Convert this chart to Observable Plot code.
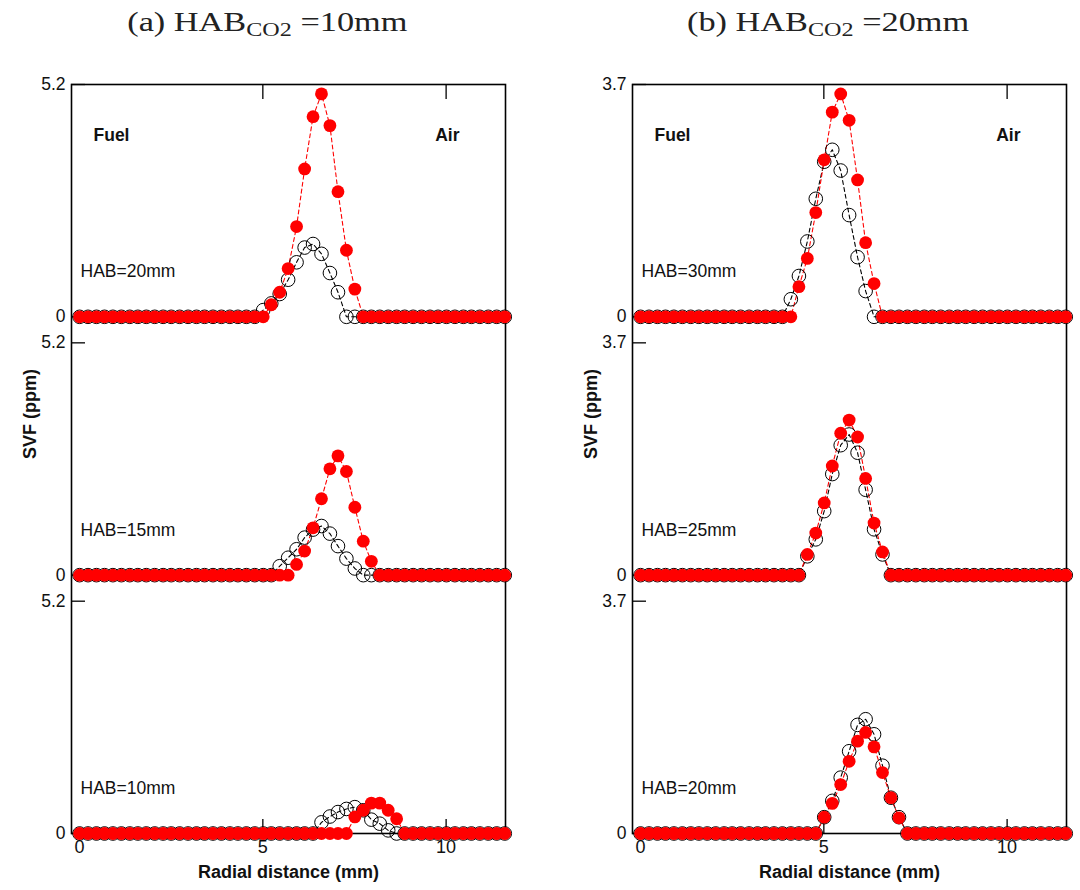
<!DOCTYPE html>
<html><head><meta charset="utf-8">
<script src="https://cdn.jsdelivr.net/npm/d3@7"></script>
<script src="https://cdn.jsdelivr.net/npm/@observablehq/plot@0.6"></script>
<style>
body{margin:0;background:#fff;}
#wrap{display:flex;width:1080px;height:890px;overflow:hidden;}
.panel{width:540px;position:relative;}
.title{height:40px;font-family:"Liberation Serif","Times New Roman",serif;font-size:27px;color:#222;text-align:center;line-height:44px;white-space:nowrap;}
.title span{display:inline-block;}
.title sub{font-size:19px;vertical-align:-5px;line-height:0;}
svg text{fill:#111;}
</style></head><body>
<div id="wrap"><div class="panel" id="pa"></div><div class="panel" id="pb"></div></div>
<script>
// radial positions (mm)
const radial = [0.00,0.23,0.46,0.68,0.91,1.14,1.37,1.59,1.82,2.05,
  2.28,2.50,2.73,2.96,3.19,3.41,3.64,3.87,4.10,4.32,
  4.55,4.78,5.01,5.23,5.46,5.69,5.92,6.14,6.37,6.60,
  6.83,7.05,7.28,7.51,7.74,7.96,8.19,8.42,8.65,8.87,
  9.10,9.33,9.56,9.78,10.01,10.24,10.47,10.69,10.92,11.15,
  11.38,11.60];

// (a) HAB_CO2 = 10mm
const a20Black = [0,0,0,0,0,0,0,0,0,0, 0,0,0,0,0,0,0,0,0,0,
  0,0,0.15,0.30,0.51,0.83,1.22,1.55,1.63,1.41, 0.98,0.55,0,0,0,0,0,0,0,0,
  0,0,0,0,0,0,0,0,0,0, 0,0];
const a20Red = [0,0,0,0,0,0,0,0,0,0, 0,0,0,0,0,0,0,0,0,0,
  0,0,0,0.27,0.55,1.08,2.02,3.31,4.48,4.99, 4.28,2.80,1.49,0.62,0,0,0,0,0,0,
  0,0,0,0,0,0,0,0,0,0, 0,0];
const a15Black = [0,0,0,0,0,0,0,0,0,0, 0,0,0,0,0,0,0,0,0,0,
  0,0,0,0,0.20,0.39,0.58,0.84,1.02,1.10, 0.93,0.65,0.37,0.15,0,0,0,0,0,0,
  0,0,0,0,0,0,0,0,0,0, 0,0];
const a15Red = [0,0,0,0,0,0,0,0,0,0, 0,0,0,0,0,0,0,0,0,0,
  0,0,0,0,0,0,0.24,0.54,1.06,1.71, 2.38,2.67,2.32,1.52,0.76,0.31,0,0,0,0,
  0,0,0,0,0,0,0,0,0,0, 0,0];
const a10Black = [0,0,0,0,0,0,0,0,0,0, 0,0,0,0,0,0,0,0,0,0,
  0,0,0,0,0,0,0,0,0,0.25, 0.38,0.48,0.55,0.59,0.52,0.31,0.22,0.07,0,0,
  0,0,0,0,0,0,0,0,0,0, 0,0];
const a10Red = [0,0,0,0,0,0,0,0,0,0, 0,0,0,0,0,0,0,0,0,0,
  0,0,0,0,0,0,0,0,0,0, 0,0,0,0.37,0.52,0.68,0.68,0.52,0.33,0,
  0,0,0,0,0,0,0,0,0,0, 0,0];

// (b) HAB_CO2 = 20mm
const b30Black = [0,0,0,0,0,0,0,0,0,0, 0,0,0,0,0,0,0,0,0.28,0.65,
  1.20,1.88,2.47,2.66,2.33,1.62,0.95,0.41,0,0, 0,0,0,0,0,0,0,0,0,0,
  0,0,0,0,0,0,0,0,0,0, 0,0];
const b30Red = [0,0,0,0,0,0,0,0,0,0, 0,0,0,0,0,0,0,0,0,0.48,
  0.93,1.66,2.50,3.26,3.55,3.13,2.18,1.18,0.53,0, 0,0,0,0,0,0,0,0,0,0,
  0,0,0,0,0,0,0,0,0,0, 0,0];
const b25Black = [0,0,0,0,0,0,0,0,0,0, 0,0,0,0,0,0,0,0,0,0,
  0.30,0.57,1.02,1.61,2.07,2.24,1.95,1.36,0.73,0.33, 0,0,0,0,0,0,0,0,0,0,
  0,0,0,0,0,0,0,0,0,0, 0,0];
const b25Red = [0,0,0,0,0,0,0,0,0,0, 0,0,0,0,0,0,0,0,0,0,
  0.33,0.67,1.15,1.74,2.26,2.47,2.20,1.54,0.83,0.37, 0,0,0,0,0,0,0,0,0,0,
  0,0,0,0,0,0,0,0,0,0, 0,0];
const b20Black = [0,0,0,0,0,0,0,0,0,0, 0,0,0,0,0,0,0,0,0,0,
  0,0,0.26,0.52,0.89,1.31,1.73,1.82,1.58,1.08, 0.57,0.26,0,0,0,0,0,0,0,0,
  0,0,0,0,0,0,0,0,0,0, 0,0];
const b20Red = [0,0,0,0,0,0,0,0,0,0, 0,0,0,0,0,0,0,0,0,0,
  0,0,0.26,0.48,0.78,1.15,1.47,1.61,1.38,0.97, 0.57,0.25,0,0,0,0,0,0,0,0,
  0,0,0,0,0,0,0,0,0,0, 0,0];

const habA = ["HAB=20mm", "HAB=15mm", "HAB=10mm"];
const habB = ["HAB=30mm", "HAB=25mm", "HAB=20mm"];
const yMaxA = 5.2, yMaxB = 3.7;
const xTicks = [0, 5, 10];
const titleA = ["(a) HAB", "CO2", " =10mm"];
const titleB = ["(b) HAB", "CO2", " =20mm"];

function makePanel(el, title, titleShift, ymax, habs, blacks, reds, mLeft, mRight) {
  const t = document.createElement("div");
  t.className = "title";
  t.innerHTML = `<span style="transform:translateX(${titleShift}px) scaleX(1.27)">${title[0]}<sub>${title[1]}</sub>${title[2]}</span>`;
  el.appendChild(t);
  const G = ymax * 258 / 232; // stacked sub-panel step in value units
  const rows = [];
  [blacks, reds].forEach((set, s) => set.forEach((arr, sub) => arr.forEach((v, i) =>
    rows.push({x: radial[i], v, sub, series: s === 0 ? "black" : "red"}))));
  const Y = d => d.v + (2 - d.sub) * G;
  const blackRows = rows.filter(d => d.series === "black");
  const redRows = rows.filter(d => d.series === "red");
  const yTicks = [0, 1, 2].flatMap(k => [k * G, k * G + ymax]);
  const fmt = d => Math.abs(d - Math.round(d / G) * G) < 1e-6 ? "0" : String(ymax);
  const svg = Plot.plot({
    width: 540, height: 850,
    marginTop: 44, marginBottom: 57, marginLeft: mLeft, marginRight: mRight,
    x: {domain: [-0.22, 11.62], label: null},
    y: {domain: [0, 2 * G + ymax], label: null},
    style: {fontFamily: "'Liberation Sans', Arial, sans-serif", fontSize: "17px", background: "white", overflow: "visible"},
    marks: [
      Plot.axisX(xTicks, {anchor: "bottom", tickSize: 0, tickPadding: 7, label: null, fontSize: 18}),
      Plot.axisX([5, 10], {anchor: "bottom", tickSize: -14, tickFormat: () => "", label: null, strokeWidth: 1.3}),
      Plot.axisX([5, 10], {anchor: "top", tickSize: -14, tickFormat: () => "", label: null, strokeWidth: 1.3}),
      Plot.axisY(yTicks, {anchor: "left", tickSize: -14, tickPadding: 20, tickFormat: fmt, label: null, fontSize: 17.5, strokeWidth: 1.3}),
      Plot.frame({stroke: "#000", strokeWidth: 1.6}),
      Plot.line(blackRows, {x: "x", y: Y, z: "sub", stroke: "#000", strokeWidth: 1.1, strokeDasharray: "4,3"}),
      Plot.line(redRows, {x: "x", y: Y, z: "sub", stroke: "#ff0000", strokeWidth: 1.1, strokeDasharray: "4,3"}),
      Plot.dot(blackRows, {x: "x", y: Y, r: 6.8, stroke: "#000", strokeWidth: 1, fill: "none"}),
      Plot.dot(redRows, {x: "x", y: Y, r: 6.4, fill: "#ff0000"}),
      Plot.text(habs, {text: d => d, y: (d, i) => (2 - i) * G, frameAnchor: "left", dx: 9, dy: -45, textAnchor: "start", fontSize: 17.5}),
      Plot.text(["Fuel"], {text: d => d, frameAnchor: "top-left", dx: 22, dy: 44, textAnchor: "start", fontWeight: "bold", fontSize: 17.5}),
      Plot.text(["Air"], {text: d => d, frameAnchor: "top-right", dx: -46, dy: 44, textAnchor: "end", fontWeight: "bold", fontSize: 17.5}),
      Plot.text(["Radial distance (mm)"], {text: d => d, frameAnchor: "bottom", dy: 44, fontWeight: "bold", fontSize: 18}),
      Plot.text(["SVF (ppm)"], {text: d => d, frameAnchor: "left", dx: -41, rotate: -90, fontWeight: "bold", fontSize: 18})
    ]
  });
  el.appendChild(svg);
}
makePanel(document.getElementById("pa"), titleA, -3, yMaxA, habA, [a20Black, a15Black, a10Black], [a20Red, a15Red, a10Red], 71, 35);
makePanel(document.getElementById("pb"), titleB, 18, yMaxB, habB, [b30Black, b25Black, b20Black], [b30Red, b25Red, b20Red], 92, 14);
</script>
</body></html>
